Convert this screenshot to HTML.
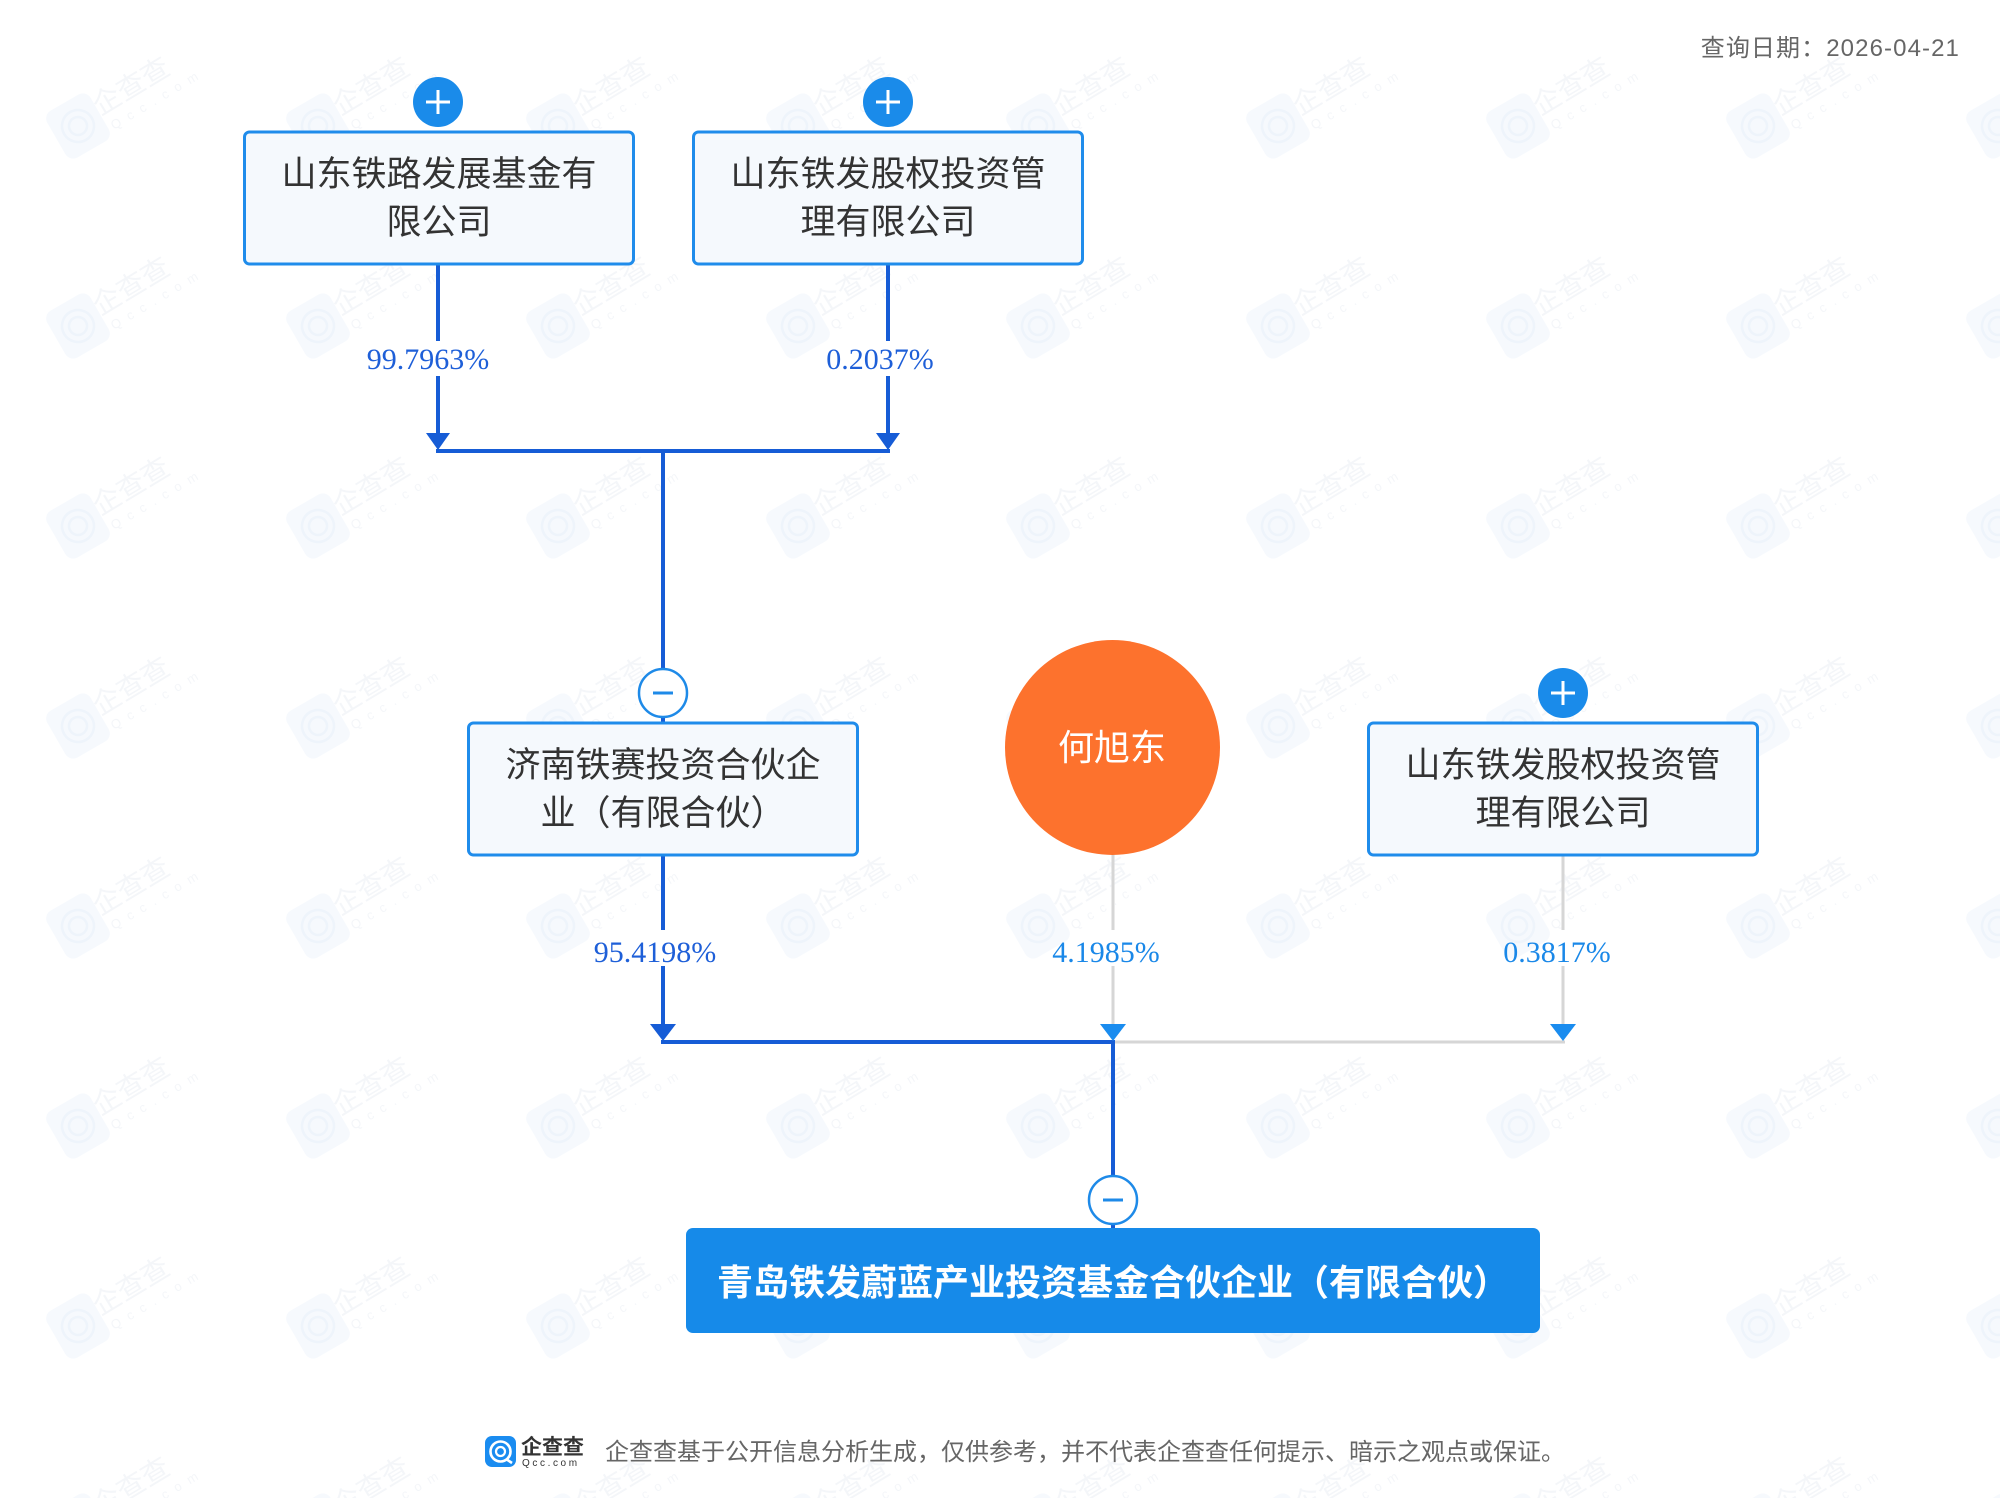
<!DOCTYPE html>
<html>
<head>
<meta charset="utf-8">
<style>
html,body{margin:0;padding:0;background:#ffffff;}
svg{display:block;}
.cjk{font-family:"Liberation Sans","Noto Sans CJK SC",sans-serif;}
.pct{font-family:"Liberation Serif",serif;font-size:30px;}
</style>
</head>
<body>
<svg width="2000" height="1498" viewBox="0 0 2000 1498" xmlns="http://www.w3.org/2000/svg">
<defs>
  <pattern id="wm" x="0" y="0" width="240" height="200" patternUnits="userSpaceOnUse">
    <g transform="translate(78,126) rotate(-30)">
      <rect x="-25" y="-27" width="50" height="54" rx="9" fill="#f6f9fd"/>
      <circle cx="0" cy="0" r="16" fill="none" stroke="#eef4fb" stroke-width="2.5"/>
      <circle cx="0" cy="0" r="9" fill="none" stroke="#eef4fb" stroke-width="2.5"/>
    </g>
    <text transform="translate(100,116) rotate(-31)" font-size="28" fill="#f4f6f9" class="cjk">企查查</text>
    <text transform="translate(114,130) rotate(-31)" font-size="13" fill="#f4f6f9" letter-spacing="8" font-family="Liberation Sans, sans-serif">Qcc.com</text>
  </pattern>
</defs>

<rect width="2000" height="1498" fill="#ffffff"/>
<rect width="2000" height="1498" fill="url(#wm)"/>

<!-- date -->
<text x="1960" y="56" text-anchor="end" font-size="24" letter-spacing="1.1" fill="#666666" class="cjk">查询日期：2026-04-21</text>

<!-- ===== upper connectors ===== -->
<g stroke="#165cd6" stroke-width="4" fill="none">
  <line x1="438" y1="264" x2="438" y2="341"/>
  <line x1="438" y1="376" x2="438" y2="440"/>
  <line x1="888" y1="264" x2="888" y2="341"/>
  <line x1="888" y1="376" x2="888" y2="440"/>
  <line x1="436" y1="451" x2="890" y2="451"/>
  <line x1="663" y1="451" x2="663" y2="669"/>
  <line x1="663" y1="716" x2="663" y2="723"/>
</g>
<polygon points="426,433 450,433 438,450" fill="#165cd6"/>
<polygon points="876,433 900,433 888,450" fill="#165cd6"/>
<text x="428" y="369" text-anchor="middle" class="pct" fill="#1e5fd8">99.7963%</text>
<text x="880" y="369" text-anchor="middle" class="pct" fill="#1e5fd8">0.2037%</text>

<!-- ===== lower connectors ===== -->
<g stroke="#d6d6d6" stroke-width="3" fill="none">
  <line x1="1113" y1="855" x2="1113" y2="930"/>
  <line x1="1113" y1="966" x2="1113" y2="1028"/>
  <line x1="1563" y1="856" x2="1563" y2="930"/>
  <line x1="1563" y1="966" x2="1563" y2="1028"/>
  <line x1="1113" y1="1042" x2="1565" y2="1042"/>
</g>
<g stroke="#165cd6" stroke-width="4" fill="none">
  <line x1="663" y1="856" x2="663" y2="930"/>
  <line x1="663" y1="966" x2="663" y2="1030"/>
  <line x1="661" y1="1042" x2="1115" y2="1042"/>
  <line x1="1113" y1="1042" x2="1113" y2="1176"/>
  <line x1="1113" y1="1223" x2="1113" y2="1229"/>
</g>
<polygon points="650,1024 676,1024 663,1041" fill="#165cd6"/>
<polygon points="1100,1024 1126,1024 1113,1041" fill="#1a8cef"/>
<polygon points="1550,1024 1576,1024 1563,1041" fill="#1a8cef"/>
<text x="655" y="962" text-anchor="middle" class="pct" fill="#1e5fd8">95.4198%</text>
<text x="1106" y="962" text-anchor="middle" class="pct" fill="#1a88e8">4.1985%</text>
<text x="1557" y="962" text-anchor="middle" class="pct" fill="#1a88e8">0.3817%</text>

<!-- ===== boxes ===== -->
<rect x="244.5" y="132" width="389" height="132" rx="5" fill="#f5f9fd" stroke="#1f8ceb" stroke-width="3"/>
<text x="439" y="186" text-anchor="middle" font-size="35" fill="#333333" class="cjk">山东铁路发展基金有</text>
<text x="439" y="234" text-anchor="middle" font-size="35" fill="#333333" class="cjk">限公司</text>

<rect x="693.5" y="132" width="389" height="132" rx="5" fill="#f5f9fd" stroke="#1f8ceb" stroke-width="3"/>
<text x="888" y="186" text-anchor="middle" font-size="35" fill="#333333" class="cjk">山东铁发股权投资管</text>
<text x="888" y="234" text-anchor="middle" font-size="35" fill="#333333" class="cjk">理有限公司</text>

<rect x="468.5" y="723" width="389" height="132" rx="5" fill="#f5f9fd" stroke="#1f8ceb" stroke-width="3"/>
<text x="663" y="777" text-anchor="middle" font-size="35" fill="#333333" class="cjk">济南铁赛投资合伙企</text>
<text x="663" y="825" text-anchor="middle" font-size="35" fill="#333333" class="cjk">业（有限合伙）</text>

<rect x="1368.5" y="723" width="389" height="132" rx="5" fill="#f5f9fd" stroke="#1f8ceb" stroke-width="3"/>
<text x="1563" y="777" text-anchor="middle" font-size="35" fill="#333333" class="cjk">山东铁发股权投资管</text>
<text x="1563" y="825" text-anchor="middle" font-size="35" fill="#333333" class="cjk">理有限公司</text>

<!-- person -->
<circle cx="1112.5" cy="747.5" r="107.5" fill="#fd722d"/>
<text x="1112" y="760" text-anchor="middle" font-size="36" fill="#ffffff" class="cjk">何旭东</text>

<!-- target -->
<rect x="686" y="1228" width="854" height="105" rx="7" fill="#168ae9"/>
<text x="1113" y="1295" text-anchor="middle" font-size="36" font-weight="bold" fill="#ffffff" class="cjk">青岛铁发蔚蓝产业投资基金合伙企业（有限合伙）</text>

<!-- plus buttons -->
<g>
  <circle cx="438" cy="102" r="25" fill="#1a8bea"/>
  <line x1="426" y1="102" x2="450" y2="102" stroke="#fff" stroke-width="3"/>
  <line x1="438" y1="90" x2="438" y2="114" stroke="#fff" stroke-width="3"/>
  <circle cx="888" cy="102" r="25" fill="#1a8bea"/>
  <line x1="876" y1="102" x2="900" y2="102" stroke="#fff" stroke-width="3"/>
  <line x1="888" y1="90" x2="888" y2="114" stroke="#fff" stroke-width="3"/>
  <circle cx="1563" cy="693" r="25" fill="#1a8bea"/>
  <line x1="1551" y1="693" x2="1575" y2="693" stroke="#fff" stroke-width="3"/>
  <line x1="1563" y1="681" x2="1563" y2="705" stroke="#fff" stroke-width="3"/>
</g>

<!-- minus buttons -->
<g>
  <circle cx="663" cy="693" r="24" fill="#ffffff" stroke="#1e8ae8" stroke-width="2.5"/>
  <line x1="653" y1="693" x2="673" y2="693" stroke="#1e8ae8" stroke-width="3"/>
  <circle cx="1113" cy="1200" r="24" fill="#ffffff" stroke="#1e8ae8" stroke-width="2.5"/>
  <line x1="1103" y1="1200" x2="1123" y2="1200" stroke="#1e8ae8" stroke-width="3"/>
</g>

<!-- footer -->
<rect x="485" y="1436" width="31" height="31" rx="7" fill="#1a8cf0"/>
<circle cx="500.5" cy="1451.5" r="10" fill="none" stroke="#ffffff" stroke-width="2.6"/>
<circle cx="500.5" cy="1451.5" r="4.5" fill="none" stroke="#ffffff" stroke-width="2.2"/>
<line x1="506" y1="1459" x2="512" y2="1463" stroke="#ffffff" stroke-width="2.6"/>
<text x="521" y="1454" font-size="21" font-weight="bold" fill="#333333" class="cjk">企查查</text>
<text x="522" y="1466" font-size="10" fill="#333333" letter-spacing="2.6" font-family="Liberation Sans, sans-serif">Qcc.com</text>
<text x="605" y="1460" font-size="24" fill="#666666" class="cjk">企查查基于公开信息分析生成，仅供参考，并不代表企查查任何提示、暗示之观点或保证。</text>
</svg>
</body>
</html>
